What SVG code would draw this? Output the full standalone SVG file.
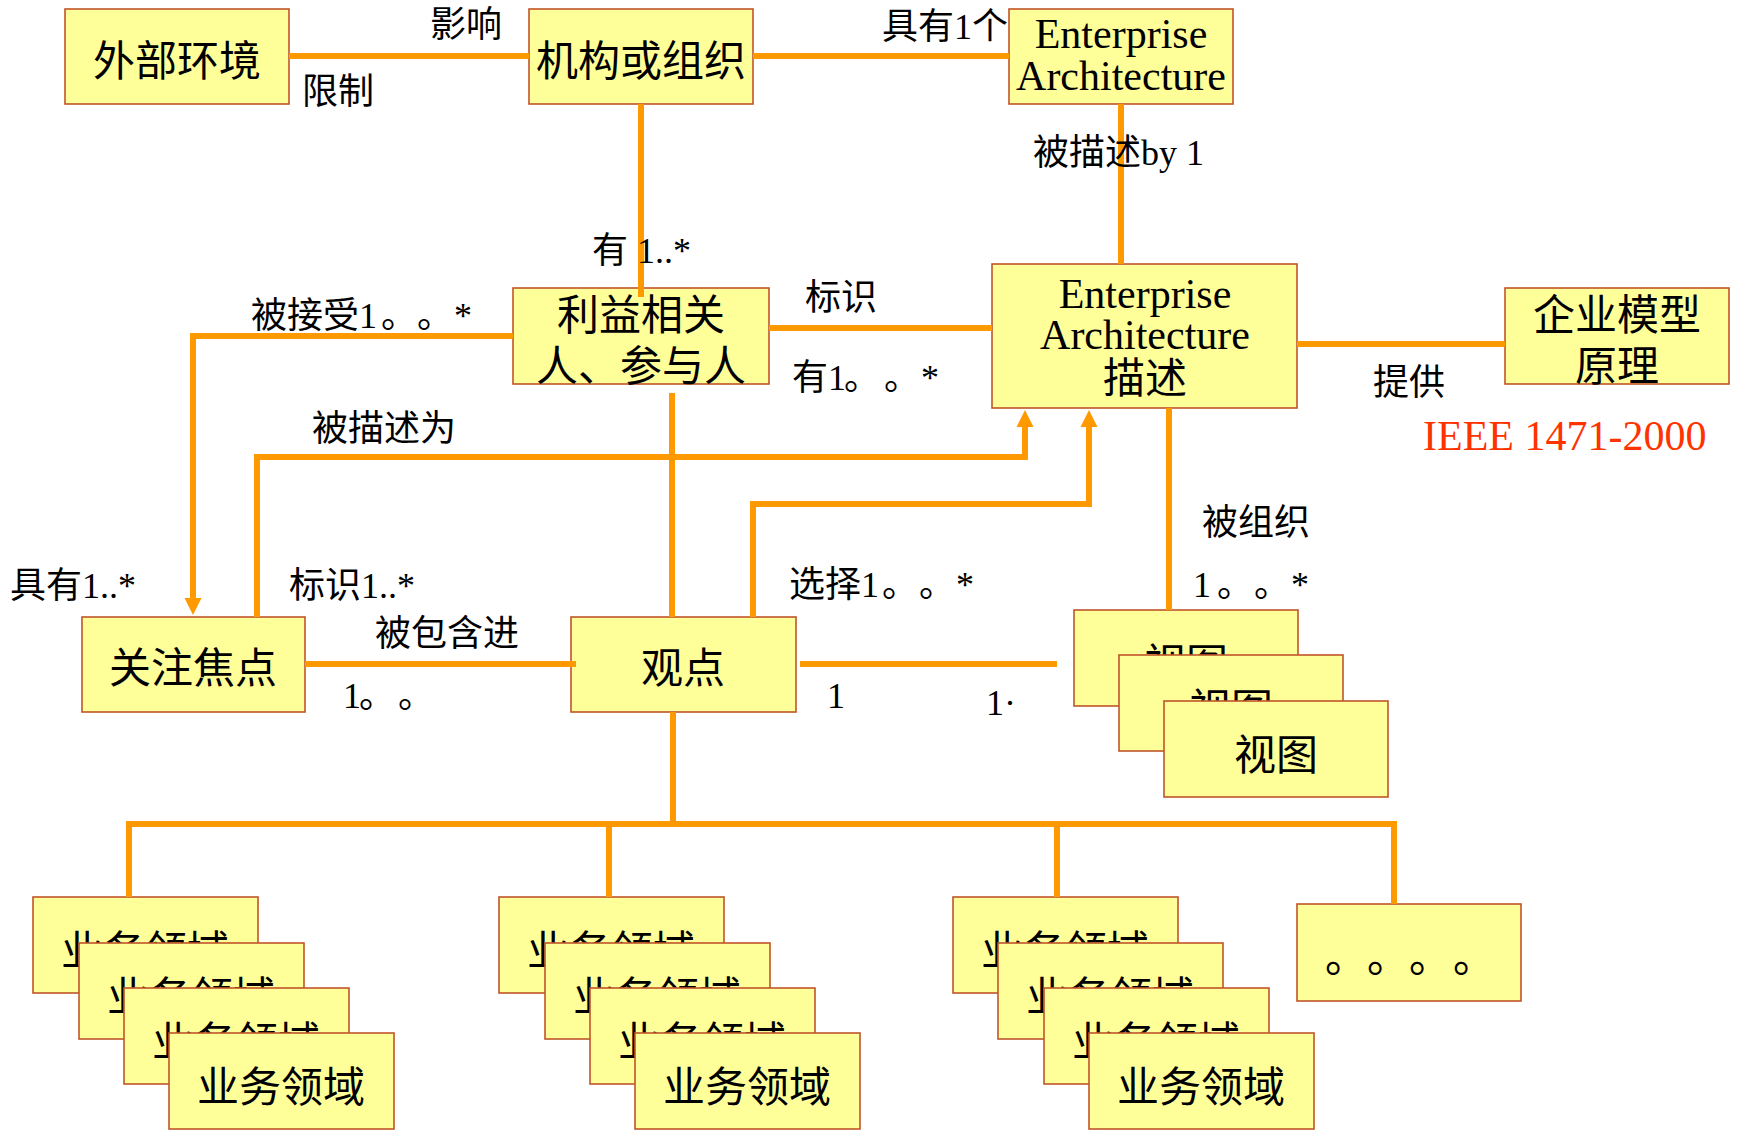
<svg xmlns="http://www.w3.org/2000/svg" width="1739" height="1139" viewBox="0 0 1739 1139">
<defs>
<style>
.bx{fill:#FFFF99;stroke:#C0552A;stroke-width:1.6}
.bt{font-family:'Liberation Serif','Noto Sans CJK SC',serif;font-size:42px;fill:#000;text-anchor:middle}
.lb{font-family:'Liberation Serif','Noto Sans CJK SC',serif;font-size:36px;fill:#000}
.ieee{font-family:'Liberation Serif',serif;font-size:42px;fill:#FF3300}
.cn{fill:none;stroke:#FF9900;stroke-width:6;stroke-linejoin:miter;stroke-linecap:butt}
</style>
<marker id="arr" markerUnits="userSpaceOnUse" markerWidth="20" markerHeight="20" viewBox="0 -10 20 20" refX="1" refY="0" orient="auto">
<path d="M0,-8.5 L17,0 L0,8.5 z" fill="#FF9900"/>
</marker>
</defs>
<rect width="1739" height="1139" fill="#FFFFFF"/>

<g id="node-external">
<rect class="bx" x="65" y="9" width="224" height="95"/>
<text class="bt" x="177" y="76">外部环境</text>
</g>
<g id="node-org">
<rect class="bx" x="529" y="9" width="224" height="95"/>
<text class="bt" x="641" y="76">机构或组织</text>
</g>
<g id="node-ea">
<rect class="bx" x="1009" y="9" width="224" height="95"/>
<text class="bt" x="1121" y="48">Enterprise</text>
<text class="bt" x="1121" y="90">Architecture</text>
</g>
<g id="node-stakeholder">
<rect class="bx" x="513" y="288" width="256" height="96"/>
<text class="bt" x="641" y="330">利益相关</text>
<text class="bt" x="641" y="381">人、参与人</text>
</g>
<g id="node-ead">
<rect class="bx" x="992" y="264" width="305" height="144"/>
<text class="bt" x="1145" y="308">Enterprise</text>
<text class="bt" x="1145" y="349">Architecture</text>
<text class="bt" x="1145" y="393">描述</text>
</g>
<g id="node-principle">
<rect class="bx" x="1505" y="288" width="224" height="96"/>
<text class="bt" x="1617" y="330">企业模型</text>
<text class="bt" x="1617" y="381">原理</text>
</g>
<g id="node-concern">
<rect class="bx" x="82" y="617" width="223" height="95"/>
<text class="bt" x="193" y="683">关注焦点</text>
</g>
<g id="node-viewpoint">
<rect class="bx" x="571" y="617" width="225" height="95"/>
<text class="bt" x="683" y="683">观点</text>
</g>
<g id="node-views">
<rect class="bx" x="1074" y="610" width="224" height="96"/>
<text class="bt" x="1186" y="679">视图</text>
<rect class="bx" x="1119" y="655" width="224" height="96"/>
<text class="bt" x="1231" y="724">视图</text>
<rect class="bx" x="1164" y="701" width="224" height="96"/>
<text class="bt" x="1276" y="770">视图</text>
</g>
<g id="node-domain-1">
<rect class="bx" x="33" y="897" width="225" height="96"/>
<text class="bt" x="145" y="966">业务领域</text>
<rect class="bx" x="79" y="943" width="225" height="96"/>
<text class="bt" x="191" y="1012">业务领域</text>
<rect class="bx" x="124" y="988" width="225" height="96"/>
<text class="bt" x="236" y="1057">业务领域</text>
<rect class="bx" x="169" y="1033" width="225" height="96"/>
<text class="bt" x="281" y="1102">业务领域</text>
</g>
<g id="node-domain-2">
<rect class="bx" x="499" y="897" width="225" height="96"/>
<text class="bt" x="611" y="966">业务领域</text>
<rect class="bx" x="545" y="943" width="225" height="96"/>
<text class="bt" x="657" y="1012">业务领域</text>
<rect class="bx" x="590" y="988" width="225" height="96"/>
<text class="bt" x="702" y="1057">业务领域</text>
<rect class="bx" x="635" y="1033" width="225" height="96"/>
<text class="bt" x="747" y="1102">业务领域</text>
</g>
<g id="node-domain-3">
<rect class="bx" x="953" y="897" width="225" height="96"/>
<text class="bt" x="1065" y="966">业务领域</text>
<rect class="bx" x="998" y="943" width="225" height="96"/>
<text class="bt" x="1110" y="1012">业务领域</text>
<rect class="bx" x="1044" y="988" width="225" height="96"/>
<text class="bt" x="1156" y="1057">业务领域</text>
<rect class="bx" x="1089" y="1033" width="225" height="96"/>
<text class="bt" x="1201" y="1102">业务领域</text>
</g>
<g id="node-more">
<rect class="bx" x="1297" y="904" width="224" height="97"/>
<text class="lb" x="1325" y="972" style="font-size:42px">。<tspan x="1367">。</tspan><tspan x="1409">。</tspan><tspan x="1453">。</tspan></text>
</g>

<g id="connectors">
<path class="cn" d="M289 56 H529"/>
<path class="cn" d="M753 56 H1009"/>
<path class="cn" d="M641 104 V297"/>
<path class="cn" d="M1121 104 V264"/>
<path class="cn" d="M769 328 H992"/>
<path class="cn" d="M1297 344 H1505"/>
<path class="cn" d="M513 336 H193 V599" marker-end="url(#arr)"/>
<path class="cn" d="M257 617 V457 H1025 V426" marker-end="url(#arr)"/>
<path class="cn" d="M753 617 V504 H1089 V426" marker-end="url(#arr)"/>
<path class="cn" d="M672 393 V617"/>
<path class="cn" d="M1169 408 V610"/>
<path class="cn" d="M305 664 H576"/>
<path class="cn" d="M800 664 H1057"/>
<path class="cn" d="M673 712 V824"/>
<path class="cn" d="M129 897 V824 H1394 V904"/>
<path class="cn" d="M609 824 V897"/>
<path class="cn" d="M1057 824 V897"/>
</g>

<g id="labels">
<text class="lb" x="430" y="37">影响</text>
<text class="lb" x="302" y="104">限制</text>
<text class="lb" x="882" y="39">具有1个</text>
<text class="lb" x="1033" y="165">被描述by 1</text>
<text class="lb" x="592" y="263">有 1..*</text>
<text class="lb" x="251" y="328">被接受1<tspan x="381">。</tspan><tspan x="417">。</tspan><tspan x="454">*</tspan></text>
<text class="lb" x="805" y="310">标识</text>
<text class="lb" x="792" y="390">有1<tspan x="844">。</tspan><tspan x="884">。</tspan><tspan x="921">*</tspan></text>
<text class="lb" x="1373" y="395">提供</text>
<text class="ieee" x="1423" y="450">IEEE 1471-2000</text>
<text class="lb" x="312" y="441">被描述为</text>
<text class="lb" x="1202" y="535">被组织</text>
<text class="lb" x="10" y="598">具有1..*</text>
<text class="lb" x="289" y="598">标识1..*</text>
<text class="lb" x="789" y="597">选择1<tspan x="882">。</tspan><tspan x="919">。</tspan><tspan x="956">*</tspan></text>
<text class="lb" x="1193" y="597">1<tspan x="1217">。</tspan><tspan x="1254">。</tspan><tspan x="1291">*</tspan></text>
<text class="lb" x="375" y="646">被包含进</text>
<text class="lb" x="343" y="708">1<tspan x="359">。</tspan><tspan x="398">。</tspan></text>
<text class="lb" x="827" y="708">1</text>
<text class="lb" x="986" y="715">1·</text>
</g>
</svg>
